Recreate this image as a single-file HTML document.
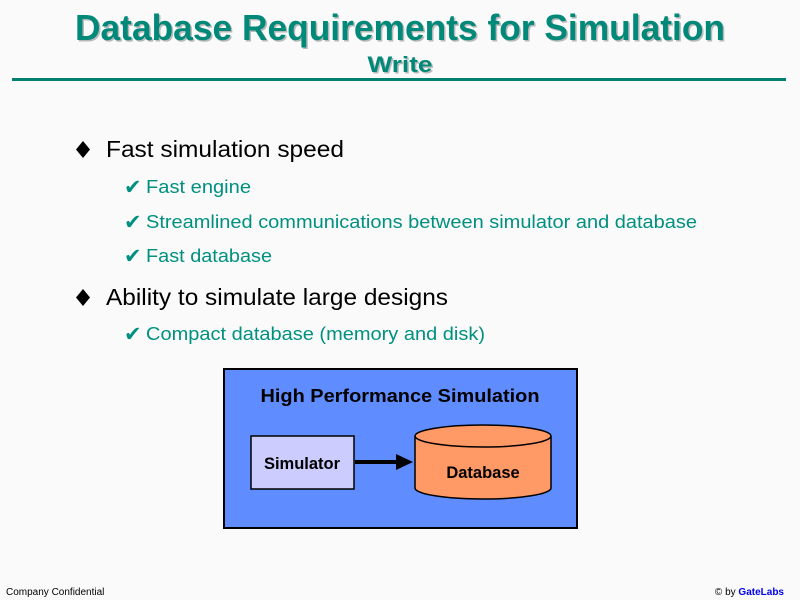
<!DOCTYPE html>
<html><head><meta charset="utf-8"><style>
html,body{margin:0;padding:0;background:#fafafa;}
svg{display:block;font-family:"Liberation Sans",Arial,sans-serif;}
</style></head><body>
<svg width="800" height="600" viewBox="0 0 800 600" xmlns="http://www.w3.org/2000/svg">
<rect width="800" height="600" fill="#fafafa"/>
<g font-weight="bold" text-anchor="middle">
<text x="401.5" y="41.5" font-size="36" fill="#b8b8b8" textLength="650" lengthAdjust="spacingAndGlyphs">Database Requirements for Simulation</text>
<text x="400" y="40" font-size="36" fill="#008878" textLength="650" lengthAdjust="spacingAndGlyphs">Database Requirements for Simulation</text>
<text x="401.5" y="73.5" font-size="22" fill="#b8b8b8" textLength="65" lengthAdjust="spacingAndGlyphs">Write</text>
<text x="400" y="72" font-size="22" fill="#008878" textLength="65" lengthAdjust="spacingAndGlyphs">Write</text>
</g>
<rect x="12" y="78" width="774" height="3" fill="#008070"/>
<polygon points="83,141 90,149.5 83,158 76,149.5" fill="#000"/>
<polygon points="83,289 90,297.5 83,306 76,297.5" fill="#000"/>
<g font-size="23" fill="#000">
<text x="106" y="157" textLength="238" lengthAdjust="spacingAndGlyphs">Fast simulation speed</text>
<text x="106" y="305" textLength="342" lengthAdjust="spacingAndGlyphs">Ability to simulate large designs</text>
</g>
<g font-size="18" fill="#009080">
<text x="124" y="194" font-size="21">✔</text><text x="146" y="193" textLength="105" lengthAdjust="spacingAndGlyphs">Fast engine</text>
<text x="124" y="229" font-size="21">✔</text><text x="146" y="228" textLength="551" lengthAdjust="spacingAndGlyphs">Streamlined communications between simulator and database</text>
<text x="124" y="263" font-size="21">✔</text><text x="146" y="262" textLength="126" lengthAdjust="spacingAndGlyphs">Fast database</text>
<text x="124" y="341" font-size="21">✔</text><text x="146" y="340" textLength="339" lengthAdjust="spacingAndGlyphs">Compact database (memory and disk)</text>
</g>
<rect x="224" y="369" width="353" height="159" fill="#5f8cff" stroke="#000" stroke-width="2"/>
<text x="400" y="402" font-size="18" font-weight="bold" text-anchor="middle" textLength="279" lengthAdjust="spacingAndGlyphs">High Performance Simulation</text>
<rect x="251" y="436" width="103" height="53" fill="#ccccff" stroke="#000" stroke-width="1.5"/>
<text x="302" y="469" font-size="16.5" font-weight="bold" text-anchor="middle">Simulator</text>
<line x1="355" y1="462" x2="400" y2="462" stroke="#000" stroke-width="4"/>
<polygon points="396,454 413,462 396,470" fill="#000"/>
<path d="M415,436 L415,488 A68,11 0 0 0 551,488 L551,436" fill="#ff9966" stroke="#000" stroke-width="1.5"/>
<ellipse cx="483" cy="436" rx="68" ry="11" fill="#ff9966" stroke="#000" stroke-width="1.5"/>
<text x="483" y="478" font-size="16.5" font-weight="bold" text-anchor="middle">Database</text>
<text x="6" y="595" font-size="10" fill="#000">Company Confidential</text>
<text x="784" y="595" font-size="10" text-anchor="end" fill="#000">© by <tspan fill="#0000ee" font-weight="bold">GateLabs</tspan></text>
</svg>
</body></html>
